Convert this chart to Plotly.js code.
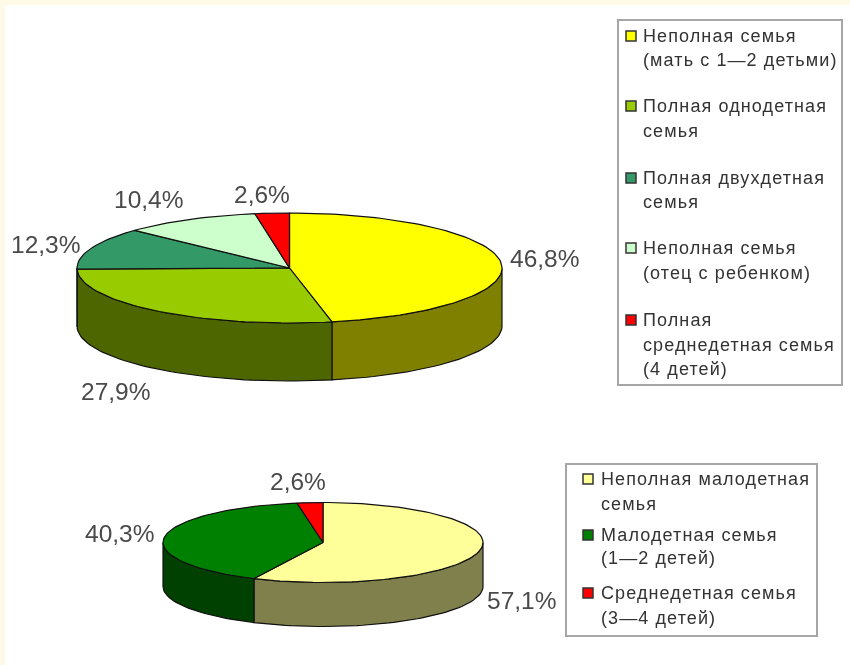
<!DOCTYPE html>
<html><head><meta charset="utf-8">
<script src="https://cdn.plot.ly/plotly-3.0.1.min.js"></script>
<style>
html,body{margin:0;padding:0;background:#fff}
#c{width:850px;height:665px;filter:blur(0.45px)}
.annotation-text[style*="font-size: 18px"]{letter-spacing:1.1px}
</style></head>
<body><div id="c"></div>
<script>
// ---- Data ----
const topValues = [46.8, 27.9, 12.3, 10.4, 2.6];
const topLabels = ['46,8%', '27,9%', '12,3%', '10,4%', '2,6%'];
const topColors = ['#ffff00', '#99cc00', '#339966', '#ccffcc', '#ff0000'];
const topLegend = [
  ['Неполная семья', '(мать с 1—2 детьми)'],
  ['Полная однодетная', 'семья'],
  ['Полная двухдетная', 'семья'],
  ['Неполная семья', '(отец с ребенком)'],
  ['Полная', 'среднедетная семья', '(4 детей)']
];
const bottomValues = [57.1, 40.3, 2.6];
const bottomLabels = ['57,1%', '40,3%', '2,6%'];
const bottomColors = ['#ffff99', '#008000', '#ff0000'];
const bottomLegend = [
  ['Неполная малодетная', 'семья'],
  ['Малодетная семья', '(1—2 детей)'],
  ['Среднедетная семья', '(3—4 детей)']
];

// ---- Layout geometry ----
const topPie = {cx: 289.5, cy: 268, rx: 212.5, ry: 55, depth: 58};
const bottomPie = {cx: 323, cy: 542.5, rx: 160, ry: 40, depth: 44};
const topLabelPos = [[544, 258], [115, 391], [45, 244], [148, 199], [262, 194]];
const bottomLabelPos = [[521, 600], [119, 533], [298, 481]];
const topLegendLayout = {box: [618, 20, 842, 385], swatchX: 631, textX: 642,
  lineY: [[36, 60], [106, 131], [178, 202], [248, 273], [320, 345, 369]], size: 18};
const bottomLegendLayout = {box: [566, 464, 817, 636], swatchX: 588, textX: 600,
  lineY: [[479, 504], [535, 558], [593, 618]], size: 18};

const traces = [], annotations = [], shapes = [];
const OUT = '#111111', TXT = '#4a4a4a', LEG = '#333333';

function shade(hex) {
  const n = parseInt(hex.slice(1), 16);
  const c = [n >> 16, (n >> 8) & 255, n & 255].map(v => Math.round(v / 2));
  return 'rgb(' + c.join(',') + ')';
}
function pt(p, deg, dy) {
  const a = deg * Math.PI / 180;
  return [p.cx + p.rx * Math.sin(a), p.cy - p.ry * Math.cos(a) + (dy || 0)];
}
function poly(points, color) {
  traces.push({type: 'scatter', mode: 'lines', x: points.map(q => q[0]), y: points.map(q => q[1]),
    fill: 'toself', fillcolor: color, line: {color: OUT, width: 1.2}, hoverinfo: 'skip', showlegend: false});
}
function arc(p, a0, a1, dy) {
  const out = [], n = Math.max(2, Math.ceil(Math.abs(a1 - a0) / 2));
  for (let i = 0; i <= n; i++) out.push(pt(p, a0 + (a1 - a0) * i / n, dy));
  return out;
}
function drawPie(p, values, colors) {
  const total = values.reduce((s, v) => s + v, 0);
  let acc = 0;
  const spans = values.map(v => { const s = [acc / total * 360, (acc + v) / total * 360]; acc += v; return s; });
  spans.forEach((s, i) => {
    const a0 = Math.max(s[0], 90), a1 = Math.min(s[1], 270);
    if (a1 > a0) poly(arc(p, a0, a1, 0).concat(arc(p, a1, a0, p.depth)).concat([pt(p, a0, 0)]), shade(colors[i]));
  });
  spans.forEach((s, i) => {
    poly([[p.cx, p.cy]].concat(arc(p, s[0], s[1], 0)).concat([[p.cx, p.cy]]), colors[i]);
  });
}
function drawLabels(labels, pos) {
  labels.forEach((t, i) => annotations.push({x: pos[i][0], y: pos[i][1], xref: 'x', yref: 'y', text: t,
    showarrow: false, xanchor: 'center', yanchor: 'middle',
    font: {family: 'Liberation Sans, Arial, sans-serif', size: 24.5, color: TXT}}));
}
function drawLegend(items, colors, L) {
  const b = L.box;
  shapes.push({type: 'rect', xref: 'x', yref: 'y', x0: b[0], y0: b[1], x1: b[2], y1: b[3],
    fillcolor: '#ffffff', line: {color: '#a6a6a6', width: 2}, layer: 'below'});
  items.forEach((lines, i) => {
    const sy = L.lineY[i][0];
    shapes.push({type: 'rect', xref: 'x', yref: 'y', x0: L.swatchX - 5, x1: L.swatchX + 5, y0: sy - 5, y1: sy + 5,
      fillcolor: colors[i], line: {color: '#333333', width: 1.5}});
    lines.forEach((t, j) => annotations.push({x: L.textX, y: L.lineY[i][j], xref: 'x', yref: 'y', text: t,
      showarrow: false, xanchor: 'left', yanchor: 'middle', borderpad: 0,
      font: {family: 'Liberation Sans, Arial, sans-serif', size: L.size, color: LEG}}));
  });
}

// page background strips
shapes.push({type: 'rect', xref: 'x', yref: 'y', x0: 0, x1: 850, y0: 0, y1: 5, fillcolor: '#fff9e8', line: {width: 0}, layer: 'below'});
shapes.push({type: 'rect', xref: 'x', yref: 'y', x0: 0, x1: 5, y0: 0, y1: 665, fillcolor: '#fff9e8', line: {width: 0}, layer: 'below'});

drawPie(topPie, topValues, topColors);
drawPie(bottomPie, bottomValues, bottomColors);
drawLabels(topLabels, topLabelPos);
drawLabels(bottomLabels, bottomLabelPos);
drawLegend(topLegend, topColors, topLegendLayout);
drawLegend(bottomLegend, bottomColors, bottomLegendLayout);

const hidden = {visible: false, fixedrange: true};
Plotly.newPlot('c', traces, {
  width: 850, height: 665, margin: {l: 0, r: 0, t: 0, b: 0},
  paper_bgcolor: '#ffffff', plot_bgcolor: '#ffffff', showlegend: false,
  xaxis: Object.assign({range: [0, 850]}, hidden),
  yaxis: Object.assign({range: [665, 0]}, hidden),
  shapes: shapes, annotations: annotations
}, {displayModeBar: false, staticPlot: true});
</script></body></html>
